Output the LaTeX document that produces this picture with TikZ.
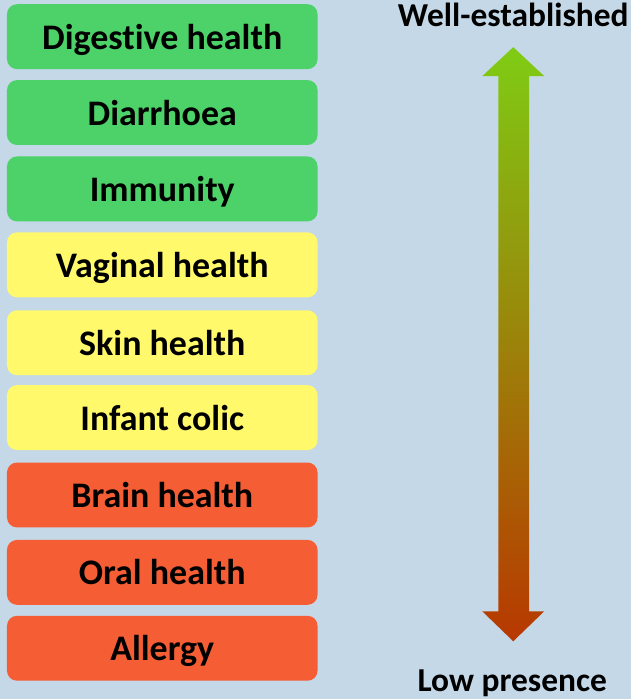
\documentclass[tikz,border=0pt]{standalone}
\usepackage{fontspec}
\setmainfont[Ligatures=NoCommon]{Carlito}
\definecolor{bgblue}{RGB}{196,216,232}
\definecolor{boxgreen}{RGB}{76,210,104}
\definecolor{boxyellow}{RGB}{255,249,107}
\definecolor{boxred}{RGB}{245,93,53}
\definecolor{arrowtop}{RGB}{127,204,20}
\definecolor{arrowbot}{RGB}{184,56,0}

\begin{document}
\begin{tikzpicture}[x=1pt, y=-1pt,
    every node/.style={font=\fontsize{33.5}{36}\selectfont\bfseries},
    evidence/.style={rounded corners=10pt, minimum width=311pt, minimum height=65pt, inner sep=0pt,
        text height=25pt, text depth=0pt, font=\fontsize{36}{40}\selectfont\bfseries}]
    % Background
    \fill[bgblue] (0,0) rectangle (632,700);

    % Evidence boxes
    \foreach \name/\txt/\col/\y in {dig/Digestive health/boxgreen/36.5, dia/Diarrhoea/boxgreen/112.5,
        imm/Immunity/boxgreen/189, vag/Vaginal health/boxyellow/265, skin/Skin health/boxyellow/343,
        colic/Infant colic/boxyellow/418, brain/Brain health/boxred/495.5, oral/Oral health/boxred/573,
        all/Allergy/boxred/649}
        \node[evidence, fill=\col] (\name) at (162.5, \y) {\txt};

    % Scale labels
    \node (high) at (514, 15) {Well-established};
    \node (low) at (513, 684) {Low presence};

    % Double arrow
    \shade[top color=arrowtop, bottom color=arrowbot]
        (514,47) -- (545,76) -- (530,76) -- (530,612) -- (545,612) -- (514,642)
        -- (483,612) -- (499,612) -- (499,76) -- (483,76) -- cycle;
\end{tikzpicture}
\end{document}
